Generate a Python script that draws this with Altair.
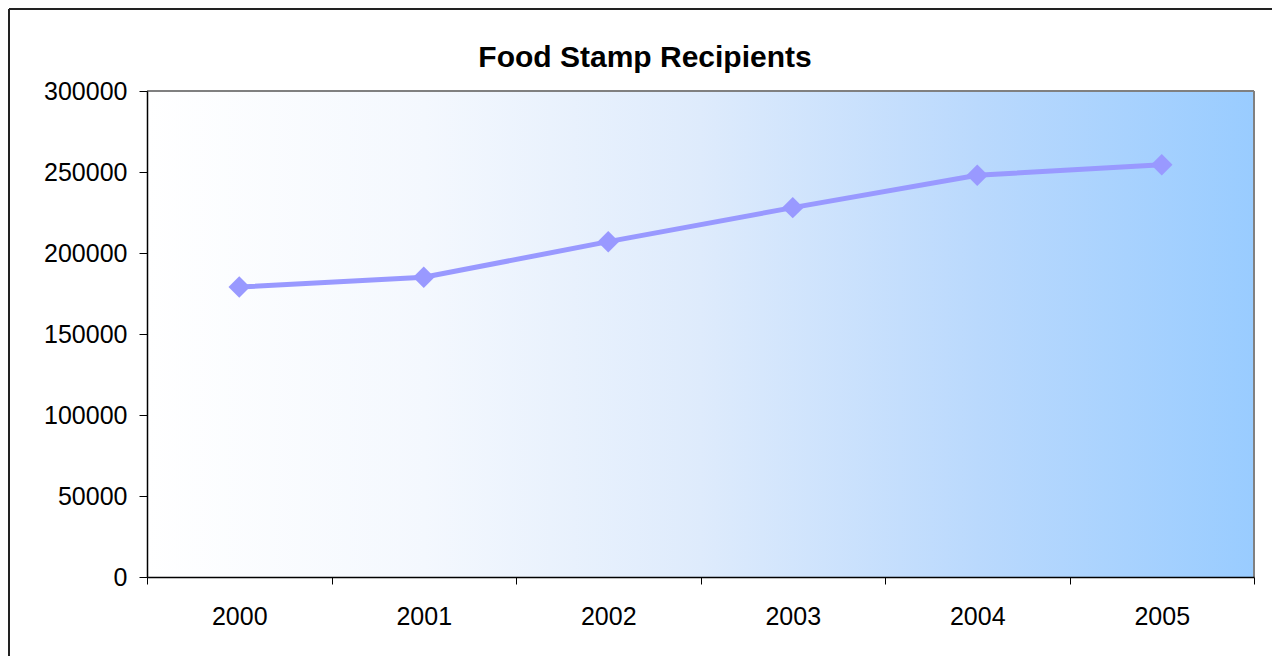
import altair as alt
import pandas as pd

years = ["2000", "2001", "2002", "2003", "2004", "2005"]
recipients = [179000, 185000, 207000, 228000, 248000, 254500]
y_ticks = [0, 50000, 100000, 150000, 200000, 250000, 300000]
title_text = "Food Stamp Recipients"

W, H = 1107, 486
FONT = "Liberation Sans"
LINE = "#9999FF"

df = pd.DataFrame({"year": years, "recipients": recipients})
one = alt.Data(values=[{"k": 1}])

grad = alt.LinearGradient(
    gradient="linear",
    x1=0, x2=1, y1=0, y2=0,
    stops=[
        alt.GradientStop(offset=0, color="#FFFFFF"),
        alt.GradientStop(offset=0.25, color="#F4F8FE"),
        alt.GradientStop(offset=0.5, color="#DEEBFC"),
        alt.GradientStop(offset=0.75, color="#BAD9FD"),
        alt.GradientStop(offset=1, color="#99CCFF"),
    ],
)

bg = alt.Chart(one).mark_rect(color=grad).encode(
    x=alt.value(0), x2=alt.value(W), y=alt.value(0), y2=alt.value(H)
)

xenc = alt.X(
    "year:O",
    scale=alt.Scale(type="band", paddingInner=0, paddingOuter=0),
    bandPosition=0.5,
    axis=alt.Axis(
        title=None, labelAngle=0, tickBand="extent", tickSize=7,
        tickColor="#000000", domainColor="#000000", domainWidth=1.5,
        labelFontSize=25, labelFont=FONT, labelColor="#000000",
        labelPadding=20, grid=False, zindex=2,
    ),
)
yenc = alt.Y(
    "recipients:Q",
    scale=alt.Scale(domain=[0, 300000], nice=False),
    axis=alt.Axis(
        title=None, values=y_ticks, format="d", tickSize=8,
        tickColor="#000000", domainColor="#000000", domainWidth=1.5,
        labelFontSize=25, labelFont=FONT, labelColor="#000000",
        labelPadding=12, grid=False, zindex=2,
    ),
)

frame_top = alt.Chart(one).mark_rule(color="#808080", strokeWidth=2).encode(
    x=alt.value(0), x2=alt.value(W), y=alt.value(0)
)
frame_right = alt.Chart(one).mark_rule(color="#808080", strokeWidth=2).encode(
    x=alt.value(W), y=alt.value(0), y2=alt.value(H)
)

line = alt.Chart(df).mark_line(color=LINE, strokeWidth=5).encode(x=xenc, y=yenc)
pts = alt.Chart(df).mark_point(
    shape="diamond", filled=True, size=460, color=LINE, opacity=1
).encode(x=xenc, y=yenc)

title = alt.Chart(one).mark_text(
    text=title_text, font=FONT, fontSize=30, fontWeight="bold",
    color="#000000", align="center", baseline="alphabetic",
).encode(x=alt.value(498), y=alt.value(-24))

left_border = alt.Chart(one).mark_rule(color="#222222", strokeWidth=2).encode(
    x=alt.value(-138), y=alt.value(-82), y2=alt.value(H + 200)
)
top_border = alt.Chart(one).mark_rule(color="#222222", strokeWidth=2).encode(
    y=alt.value(-82), x=alt.value(-138), x2=alt.value(W + 200)
)

chart = (
    alt.layer(bg, frame_top, frame_right, line, pts, title, left_border, top_border)
    .properties(
        width=W,
        height=H,
        autosize=alt.AutoSizeParams(type="none"),
        padding={"left": 139, "top": 83, "right": 18, "bottom": 79},
    )
    .configure_view(stroke=None)
    .configure(background="#FFFFFF")
)

chart.save("out.html", embed_options={"renderer": "svg", "actions": False})
